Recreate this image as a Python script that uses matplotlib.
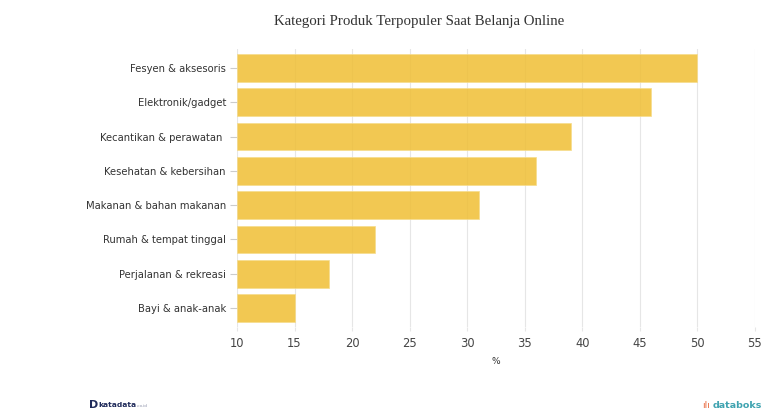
import matplotlib.pyplot as plt

kategori = ['Fesyen & aksesoris', 'Elektronik/gadget', 'Kecantikan & perawatan ',
            'Kesehatan & kebersihan', 'Makanan & bahan makanan', 'Rumah & tempat tinggal',
            'Perjalanan & rekreasi', 'Bayi & anak-anak']
persen = [50, 46, 39, 36, 31, 22, 18, 15]
xticks = [10, 15, 20, 25, 30, 35, 40, 45, 50, 55]

fig = plt.figure(figsize=(7.67, 4.12), dpi=100)
ax = fig.add_axes([237 / 767, 1 - 327 / 412, (755 - 237) / 767, (327 - 49) / 412])

ypos = list(range(len(kategori)))
ax.barh(ypos, [p - 10 for p in persen], left=10, height=0.8,
        color='#f0bf34', alpha=0.85, edgecolor='#f6dc8c', linewidth=0.6, zorder=1)

ax.set_xlim(10, 55)
ax.set_ylim(len(kategori) - 0.45, -0.55)
ax.set_xticks(xticks)
ax.set_xticklabels([str(t) for t in xticks], fontsize=8.3, color='#444444')
ax.set_yticks(ypos)
ax.set_yticklabels(kategori, fontsize=7.2, color='#333333')
ax.grid(axis='x', color='#e6e6e6', linewidth=0.8, zorder=0)
ax.set_axisbelow(True)
for s in ax.spines.values():
    s.set_visible(False)
ax.tick_params(axis='y', length=5, color='#cccccc', pad=3)
ax.tick_params(axis='x', length=3, color='#e6e6e6', pad=4)

ax.set_xlabel('%', fontsize=6.5, color='#333333', labelpad=5)

fig.text(0.547, 1 - 21 / 412, 'Kategori Produk Terpopuler Saat Belanja Online',
         ha='center', va='center', fontsize=10.7, family='Liberation Serif', color='#333333')

# logo footer
fig.text(89 / 767, 1 - 405 / 412, 'D', fontsize=8, fontweight='bold', color='#1f2a5a',
         ha='left', va='center')
fig.text(98.5 / 767, 1 - 405 / 412, 'katadata', fontsize=5.4, fontweight='bold', color='#1f2a5a',
         ha='left', va='center')
fig.text(137 / 767, 1 - 406 / 412, '.co.id', fontsize=3, color='#8a8fa8',
         ha='left', va='center')
fig.text(702 / 767, 1 - 405 / 412, 'ılı', fontsize=6.5, color='#e8673c',
         ha='left', va='center')
fig.text(713 / 767, 1 - 405 / 412, 'databoks', fontsize=6.8, fontweight='bold', color='#3fa3b0',
         ha='left', va='center')

fig.savefig('out.png', dpi=100)
